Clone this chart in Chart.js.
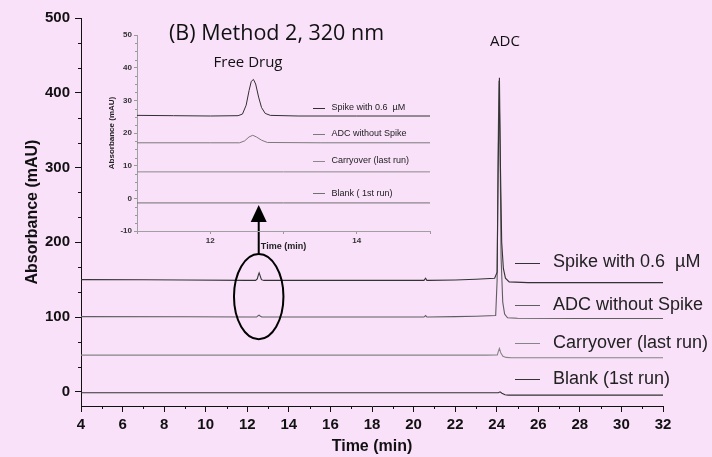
<!DOCTYPE html>
<html><head><meta charset="utf-8">
<script src="https://cdn.jsdelivr.net/npm/chart.js@4.4.1/dist/chart.umd.min.js"></script>
<style>
html,body{margin:0;padding:0;background:#f9e1f9;}
#wrap{position:relative;width:712px;height:457px;overflow:hidden;}
#main{position:absolute;left:0;top:0;}
#inset{position:absolute;left:80px;top:20px;}
</style></head><body>
<div id="wrap"><canvas id="main" width="712" height="457"></canvas><canvas id="inset" width="360" height="236"></canvas></div>
<script>
// ---------- labels ----------
const seriesLabels = ['Spike with 0.6  \u00b5M', 'ADC without Spike', 'Carryover (last run)', 'Blank (1st run)'];
const insetLabels = ['Spike with 0.6  \u00b5M', 'ADC without Spike', 'Carryover (last run)', 'Blank ( 1st run)'];
const chartTitle = '(B) Method 2, 320 nm';
const freeDrugLabel = 'Free Drug';
const adcLabel = 'ADC';
const xTitle = 'Time (min)';
const yTitle = 'Absorbance (mAU)';

// ---------- main chromatograms ----------
const spikeTime   = [4, 7, 9, 12, 12.4, 12.48, 12.53, 12.57, 12.62, 12.68, 12.8, 16, 20.5, 20.58, 20.64, 20.72, 22, 23, 23.9, 24.02, 24.07, 24.13, 24.18, 24.24, 24.32, 24.42, 24.6, 25.5, 28, 32];
const spikeValues = [150, 149.8, 149.5, 149, 149, 151, 156, 159, 155, 150, 149, 149, 149, 152, 149, 149, 149.5, 150.5, 151.8, 160, 300, 420, 300, 200, 165, 152, 147, 146, 146, 146];

const adcTime   = [4, 9, 12, 12.45, 12.52, 12.57, 12.63, 12.7, 16, 20.5, 20.58, 20.64, 20.72, 22, 23, 23.95, 24.02, 24.07, 24.11, 24.16, 24.21, 24.29, 24.38, 24.52, 25, 28, 32];
const adcValues = [100.5, 100.3, 100, 100, 101.8, 102.6, 101, 100, 100, 100, 102, 100, 100, 100.5, 101, 102, 150, 330, 416, 330, 180, 120, 104, 99, 98.3, 98, 98];

const carryTime   = [4, 12, 20, 23.5, 24.03, 24.08, 24.13, 24.2, 24.3, 24.45, 24.7, 28, 32];
const carryValues = [49, 49, 49, 49, 49.3, 54, 58, 52, 47.5, 46, 45.5, 45.5, 45.5];

const blankTime   = [4, 9, 16, 23.5, 24.08, 24.16, 24.25, 24.4, 24.55, 28, 32];
const blankValues = [-1.2, -1.2, -1.3, -1.3, -1.2, 0, -2, -4, -4.4, -4.4, -4.4];

// ---------- inset (zoom 11-15 min) ----------
const insetSpikeTime   = [11, 11.5, 12, 12.38, 12.44, 12.49, 12.53, 12.56, 12.59, 12.62, 12.66, 12.7, 12.75, 12.82, 13.2, 14, 15];
const insetSpikeValues = [25.4, 25.3, 25.2, 25.3, 25.8, 28.5, 33, 35.8, 36.4, 35, 31, 27.8, 26, 25.4, 25.2, 25.2, 25.2];
const insetAdcTime   = [11, 12, 12.4, 12.47, 12.53, 12.58, 12.63, 12.7, 12.78, 13.5, 15];
const insetAdcValues = [17, 17, 17, 17.6, 18.8, 19.3, 18.8, 17.8, 17.1, 17, 17];
const insetCarryTime   = [11, 13, 15];
const insetCarryValues = [8.1, 8.1, 8.1];
const insetBlankTime   = [11, 13, 15];
const insetBlankValues = [-1.4, -1.4, -1.4];

// ---------- ticks ----------
const mainYTicks = [0, 100, 200, 300, 400, 500];
const mainMinorX = [5, 7, 9, 11, 13, 15, 17, 19, 21, 23, 25, 27, 29, 31];
const mainMinorY = [33.3, 66.7, 133.3, 166.7, 233.3, 266.7, 333.3, 366.7, 433.3, 466.7];
const insetMinorY = [-7.5, -5, -2.5, 2.5, 5, 7.5, 12.5, 15, 17.5, 22.5, 25, 27.5, 32.5, 35, 37.5, 42.5, 45, 47.5];

const seriesColors = ['#333333', '#5e5e5e', '#858585', '#333333'];
const insetColors  = ['#303030', '#7a7a7a', '#8a8a8a', '#707070'];

const pts = (xs, ys) => xs.map((v, i) => ({x: v, y: ys[i]}));

const minorTicks = {
  id: 'minorTicks',
  afterDraw(chart, args, opts) {
    const {ctx, scales: {x, y}} = chart;
    ctx.save();
    ctx.strokeStyle = opts.color; ctx.lineWidth = 1;
    ctx.beginPath();
    (opts.x || []).forEach(v => { const p = Math.round(x.getPixelForValue(v)) + 0.5; ctx.moveTo(p, x.top); ctx.lineTo(p, x.top + opts.len); });
    (opts.y || []).forEach(v => { const p = Math.round(y.getPixelForValue(v)) + 0.5; ctx.moveTo(y.right, p); ctx.lineTo(y.right - opts.len, p); });
    ctx.stroke(); ctx.restore();
  }
};

const mainDecor = {
  id: 'mainDecor',
  afterDraw(chart) {
    const {ctx, scales: {x, y}, data} = chart;
    ctx.save();
    ctx.fillStyle = '#111';
    ctx.textBaseline = 'middle';
    ctx.font = '21.5px "Open Sans"';
    ctx.textAlign = 'left';
    ctx.fillText(chartTitle, 169, 34);
    ctx.font = '15px "Open Sans"';
    ctx.textAlign = 'center';
    ctx.fillText(freeDrugLabel, 248, 63);
    ctx.fillText(adcLabel, x.getPixelForValue(24.4), y.getPixelForValue(468));
    // ellipse around the free-drug peak
    const cx = x.getPixelForValue(12.55), cy = y.getPixelForValue(127.4);
    const rx = Math.abs(x.getPixelForValue(12.55 + 1.19) - cx);
    const ry = Math.abs(y.getPixelForValue(127.4 + 57) - cy);
    ctx.strokeStyle = '#000'; ctx.lineWidth = 2;
    ctx.beginPath(); ctx.ellipse(cx, cy, rx, ry, 0, 0, 2 * Math.PI); ctx.stroke();
    // arrow to inset
    const tipY = y.getPixelForValue(250);
    ctx.beginPath(); ctx.moveTo(cx, cy - ry); ctx.lineTo(cx, tipY + 12); ctx.stroke();
    ctx.fillStyle = '#000';
    ctx.beginPath(); ctx.moveTo(cx, tipY); ctx.lineTo(cx - 8, tipY + 17); ctx.lineTo(cx + 8, tipY + 17); ctx.closePath(); ctx.fill();
    // legend
    const rows = [262.5, 305, 343, 379];
    ctx.font = '18px "Liberation Sans", Arial';
    ctx.textAlign = 'left';
    ctx.lineWidth = 1;
    data.datasets.forEach((ds, i) => {
      ctx.strokeStyle = ds.borderColor;
      ctx.beginPath(); ctx.moveTo(515, Math.round(rows[i]) + 0.5); ctx.lineTo(540, Math.round(rows[i]) + 0.5); ctx.stroke();
      ctx.fillStyle = '#222';
      ctx.fillText(ds.label, 553, rows[i]);
    });
    ctx.restore();
  }
};

const insetDecor = {
  id: 'insetDecor',
  afterDraw(chart) {
    const {ctx, data} = chart;
    const rows = [87.5, 113.5, 140.7, 173.3];
    ctx.save();
    ctx.font = '9px "Liberation Sans", Arial';
    ctx.textAlign = 'left'; ctx.textBaseline = 'middle';
    ctx.lineWidth = 1;
    data.datasets.forEach((ds, i) => {
      ctx.strokeStyle = ds.borderColor;
      ctx.beginPath(); ctx.moveTo(233, Math.round(rows[i]) + 0.5); ctx.lineTo(245, Math.round(rows[i]) + 0.5); ctx.stroke();
      ctx.fillStyle = '#222';
      ctx.fillText(ds.label, 251.5, rows[i]);
    });
    ctx.restore();
  }
};

const mkDs = (label, color, data, w) => ({label, data, borderColor: color, borderWidth: w, showLine: true, pointRadius: 0, tension: 0, fill: false});

new Chart(document.getElementById('main'), {
  type: 'scatter',
  data: {
    datasets: [
      mkDs(seriesLabels[0], seriesColors[0], pts(spikeTime, spikeValues), 1.1),
      mkDs(seriesLabels[1], seriesColors[1], pts(adcTime, adcValues), 1.1),
      mkDs(seriesLabels[2], seriesColors[2], pts(carryTime, carryValues), 1.1),
      mkDs(seriesLabels[3], seriesColors[3], pts(blankTime, blankValues), 1.1)
    ]
  },
  options: {
    responsive: false, animation: false, devicePixelRatio: 1,
    layout: {padding: {left: 0, right: 49, top: 18, bottom: 0}},
    plugins: {
      legend: {display: false}, tooltip: {enabled: false},
      minorTicks: {x: mainMinorX, y: mainMinorY, len: 3, color: '#111'}
    },
    scales: {
      x: {
        type: 'linear', min: 4, max: 32,
        ticks: {stepSize: 2, color: '#111', padding: 4, font: {family: '"Liberation Sans", Arial', size: 15, weight: 'bold'}},
        grid: {display: true, drawOnChartArea: false, drawTicks: true, tickLength: 6, color: '#111'},
        border: {display: true, color: '#111', width: 1},
        title: {display: true, text: xTitle, color: '#111', padding: {top: 0, bottom: 1}, font: {family: '"Liberation Sans", Arial', size: 16, weight: 'bold'}},
        afterFit: s => { s.height = 51; }
      },
      y: {
        type: 'linear', min: -19, max: 500,
        afterBuildTicks: s => { s.ticks = mainYTicks.map(v => ({value: v})); },
        ticks: {color: '#111', padding: 5, font: {family: '"Liberation Sans", Arial', size: 15, weight: 'bold'}},
        grid: {display: true, drawOnChartArea: false, drawTicks: true, tickLength: 6, color: '#111'},
        border: {display: true, color: '#111', width: 1},
        title: {display: true, text: yTitle, color: '#111', padding: {top: 23, bottom: 0}, font: {family: '"Liberation Sans", Arial', size: 16, weight: 'bold'}},
        afterFit: s => { s.width = 81; }
      }
    }
  },
  plugins: [minorTicks, mainDecor]
});

new Chart(document.getElementById('inset'), {
  type: 'scatter',
  data: {
    datasets: [
      mkDs(insetLabels[0], insetColors[0], pts(insetSpikeTime, insetSpikeValues), 1),
      mkDs(insetLabels[1], insetColors[1], pts(insetAdcTime, insetAdcValues), 1),
      mkDs(insetLabels[2], insetColors[2], pts(insetCarryTime, insetCarryValues), 1),
      mkDs(insetLabels[3], insetColors[3], pts(insetBlankTime, insetBlankValues), 1)
    ]
  },
  options: {
    responsive: false, animation: false, devicePixelRatio: 1,
    layout: {padding: {left: 0, right: 10, top: 15, bottom: 0}},
    plugins: {
      legend: {display: false}, tooltip: {enabled: false},
      minorTicks: {x: [], y: insetMinorY, len: 2, color: '#999'}
    },
    scales: {
      x: {
        type: 'linear', min: 11, max: 15,
        ticks: {stepSize: 1, color: '#333', padding: 2, callback: v => (v % 2 === 0 ? String(v) : ''), font: {family: '"Liberation Sans", Arial', size: 8, weight: 'bold'}},
        grid: {display: true, drawOnChartArea: false, drawTicks: true, tickLength: 3, color: '#999'},
        border: {display: true, color: '#a0a0a0', width: 1},
        title: {display: true, text: xTitle, color: '#222', padding: {top: 0, bottom: 4}, font: {family: '"Liberation Sans", Arial', size: 9, weight: 'bold'}},
        afterFit: s => { s.height = 25; }
      },
      y: {
        type: 'linear', min: -10, max: 50,
        ticks: {stepSize: 10, color: '#333', padding: 2, font: {family: '"Liberation Sans", Arial', size: 8, weight: 'bold'}},
        grid: {display: true, drawOnChartArea: false, drawTicks: true, tickLength: 3, color: '#999'},
        border: {display: true, color: '#a0a0a0', width: 1},
        title: {display: true, text: yTitle, color: '#222', padding: {top: 27, bottom: 0}, font: {family: '"Liberation Sans", Arial', size: 8, weight: 'bold'}},
        afterFit: s => { s.width = 57; }
      }
    }
  },
  plugins: [minorTicks, insetDecor]
});
</script>
</body></html>
